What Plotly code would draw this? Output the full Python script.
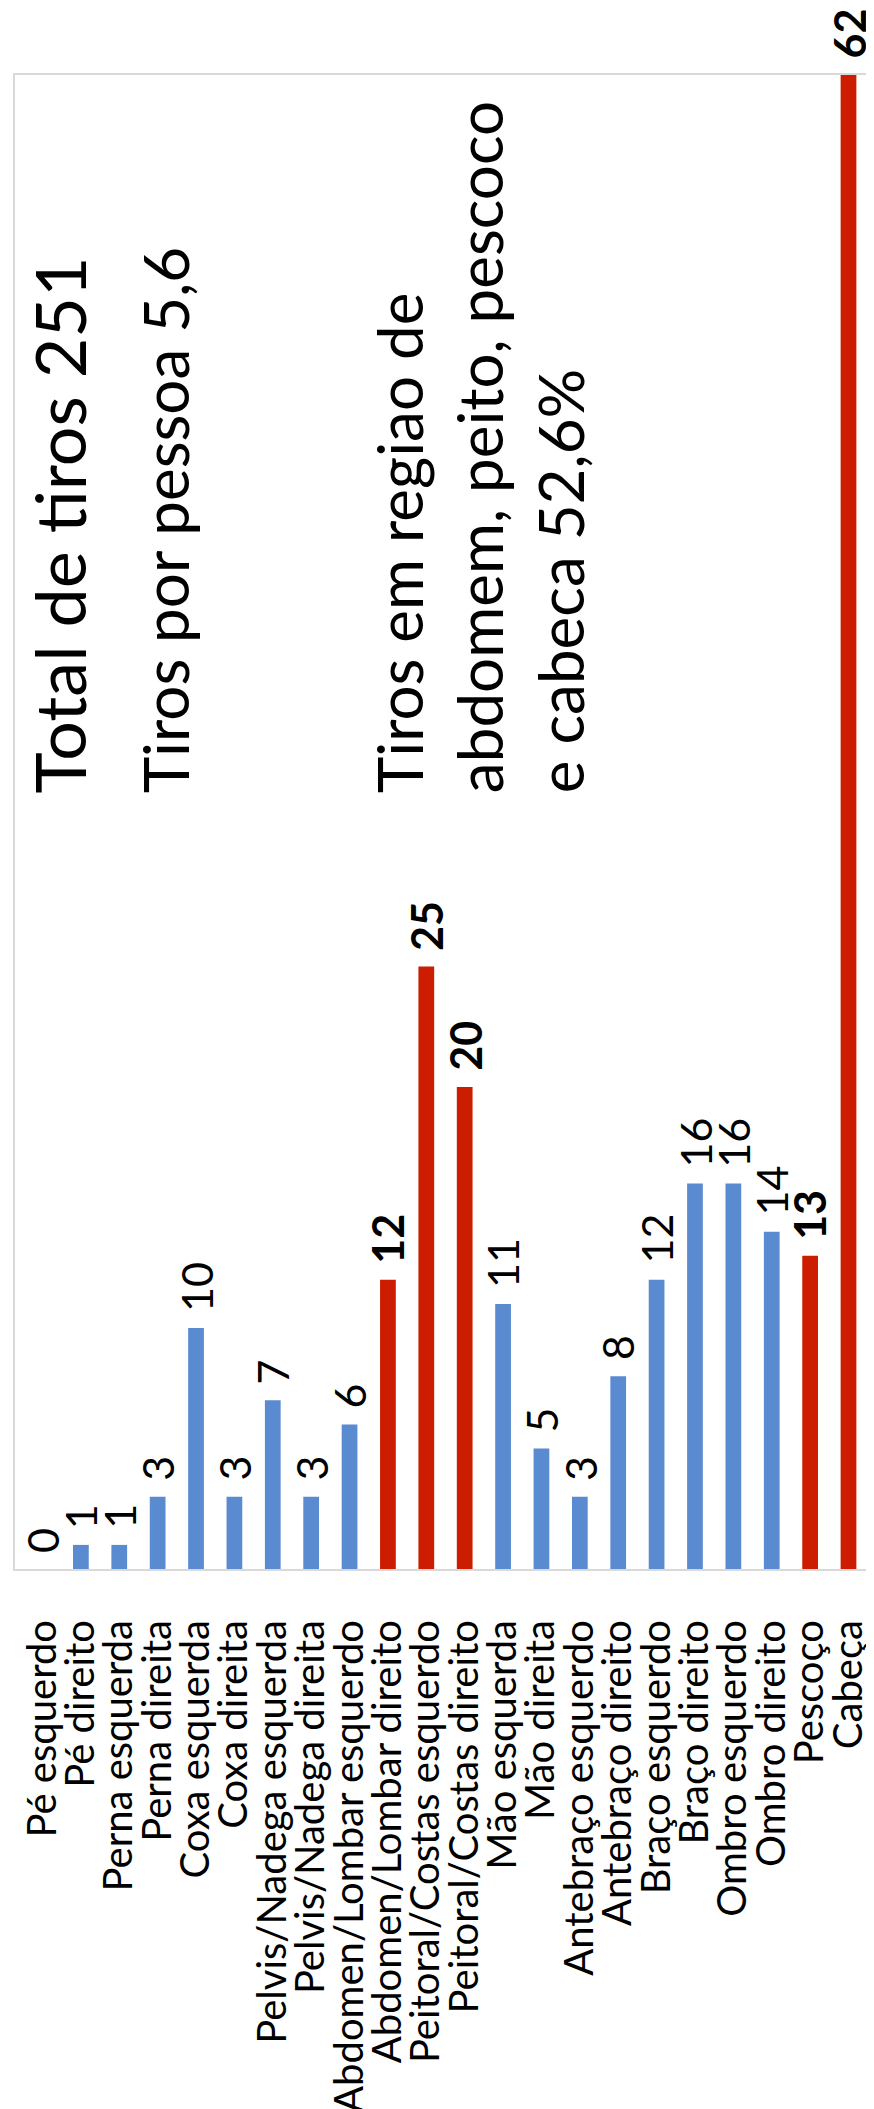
import plotly.graph_objects as go

categories = [
    "Pé esquerdo", "Pé direito", "Perna esquerda", "Perna direita",
    "Coxa esquerda", "Coxa direita", "Pelvis/Nadega esquerda", "Pelvis/Nadega direita",
    "Abdomen/Lombar esquerdo", "Abdomen/Lombar direito", "Peitoral/Costas esquerdo",
    "Peitoral/Costas direito", "Mão esquerda", "Mão direita", "Antebraço esquerdo",
    "Antebraço direito", "Braço esquerdo", "Braço direito", "Ombro esquerdo",
    "Ombro direito", "Pescoço", "Cabeça",
]
values = [0, 1, 1, 3, 10, 3, 7, 3, 6, 12, 25, 20, 11, 5, 3, 8, 12, 16, 16, 14, 13, 62]
highlighted = ["Abdomen/Lombar direito", "Peitoral/Costas esquerdo",
               "Peitoral/Costas direito", "Pescoço", "Cabeça"]

summary_lines = ["Total de tiros 251", "Tiros por pessoa 5,6"]
region_text = ["Tiros em regiao de", "abdomem, peito, pescoco", "e cabeca 52,6%"]

BLUE = "#5A8ACF"
RED = "#CC1D00"
FONT = "Lato"

W, H = 874, 2109
ML, MR, MT, MB = 7, 4, 67, 536

colors = [RED if c in highlighted else BLUE for c in categories]

fig = go.Figure()
fig.add_trace(go.Bar(
    x=categories, y=values, marker=dict(color=colors, line=dict(width=0)),
    showlegend=False, hoverinfo="x+y",
))

# data labels
for c, v in zip(categories, values):
    txt = f"<b>{v}</b>" if c in highlighted else str(v)
    fig.add_annotation(
        x=c, y=v, xref="x", yref="y", text=txt, textangle=-90, showarrow=False,
        xanchor="center", yanchor="bottom", yshift=14,
        font=dict(family=FONT, size=43, color="black"),
    )

plot_w = W - ML - MR
plot_h = H - MT - MB


def px_x(px):
    return (px - ML) / plot_w


def px_y(py):
    return (H - MB - py) / plot_h


fig.add_annotation(
    xref="paper", yref="paper", x=px_x(51), y=px_y(793), text=summary_lines[0],
    textangle=-90, showarrow=False, xanchor="center", yanchor="bottom",
    font=dict(family=FONT, size=70, color="black"),
)
fig.add_annotation(
    xref="paper", yref="paper", x=px_x(157), y=px_y(793), text=summary_lines[1],
    textangle=-90, showarrow=False, xanchor="center", yanchor="bottom",
    font=dict(family=FONT, size=62, color="black"),
)
fig.add_annotation(
    xref="paper", yref="paper", x=px_x(472), y=px_y(793), text="<br>".join(region_text),
    textangle=-90, showarrow=False, xanchor="center", yanchor="bottom", align="left",
    font=dict(family=FONT, size=62, color="black"),
)

fig.update_layout(
    width=W, height=H,
    margin=dict(l=ML, r=MR, t=MT, b=MB, pad=0),
    paper_bgcolor="white", plot_bgcolor="white",
    bargap=0.59,
    font=dict(family=FONT, color="black"),
)
fig.update_xaxes(
    type="category", tickmode="array", tickvals=categories, ticktext=categories,
    tickangle=-90, tickfont=dict(family=FONT, size=40, color="black"),
    showline=True, linecolor="#D9D9D9", linewidth=2, mirror=True,
    ticks="", showgrid=False, ticklabelstandoff=33,
)
fig.update_yaxes(
    range=[0, 62], showticklabels=False, showgrid=False, zeroline=False,
    showline=True, linecolor="#D9D9D9", linewidth=2, mirror=True, ticks="",
)

fig.write_html("out.html")
